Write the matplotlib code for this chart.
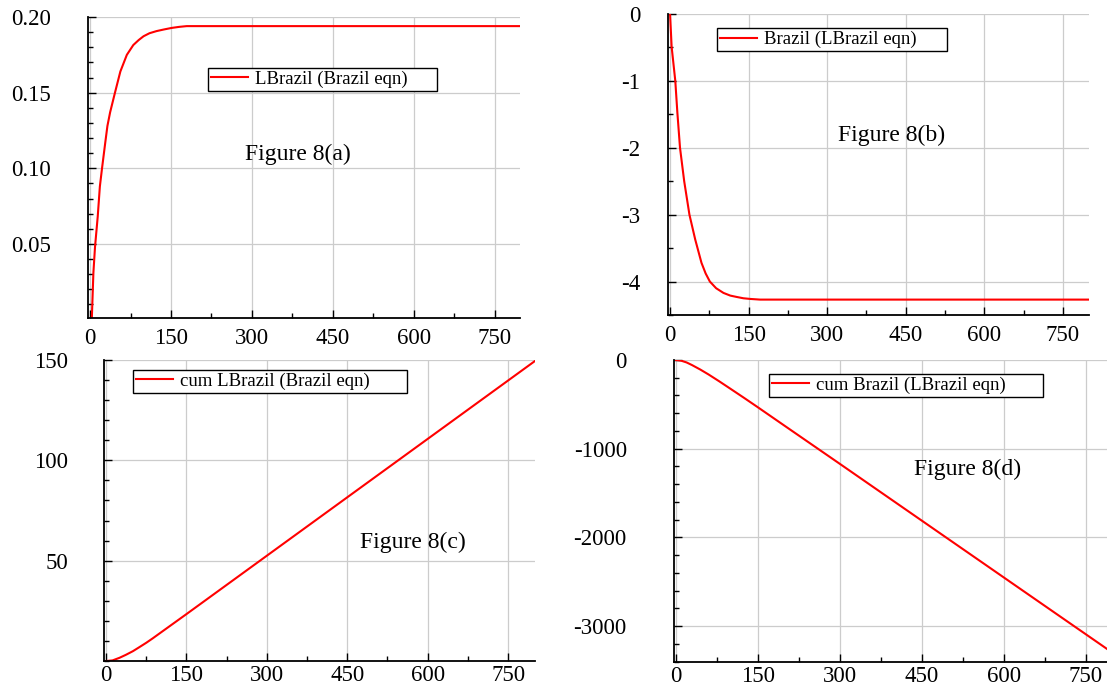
import matplotlib
matplotlib.use('Agg')
import matplotlib.pyplot as plt
from matplotlib.ticker import MultipleLocator

plt.rcParams['font.family'] = ['Liberation Serif', 'DejaVu Serif']
plt.rcParams['axes.unicode_minus'] = False

# values
t_a = [3, 6, 9, 14, 18, 22, 28, 32, 37, 46, 56, 68, 80, 90, 99, 110, 123, 137, 151, 165, 179, 800]
lbrazil = [0.0, 0.031, 0.048, 0.068, 0.088, 0.100, 0.117, 0.128, 0.137, 0.150,
           0.164, 0.175, 0.1815, 0.1848, 0.1873, 0.1893, 0.1907, 0.1918, 0.1928, 0.1935, 0.194, 0.194]

t_b = [0, 3, 10, 14, 19, 27, 37, 48, 60, 68, 76, 88, 102, 115, 127, 140, 153, 172, 800]
brazil = [0.0, -0.49, -1.0, -1.48, -2.0, -2.5, -3.0, -3.37, -3.72, -3.88, -4.0,
          -4.1, -4.17, -4.21, -4.23, -4.25, -4.26, -4.27, -4.27]

t_c = [0, 12, 25, 37, 50, 62, 75, 87, 100, 125, 150, 200, 300, 400, 500, 600, 700, 800]
cum_lbrazil = [0.0, 0.3, 1.6, 3.1, 4.9, 6.9, 9.1, 11.3, 13.8, 18.6, 23.4, 33.1, 52.5,
               71.9, 91.3, 110.7, 130.1, 149.5]

t_d = [0, 10, 20, 30, 45, 60, 80, 100, 125, 150, 200, 300, 400, 500, 600, 700, 790]
cum_brazil = [0, -8, -28, -58, -108, -163, -242, -324, -427, -532, -745, -1170,
              -1597, -2024, -2451, -2878, -3262]

xticks = [0, 150, 300, 450, 600, 750]

fig = plt.figure(figsize=(11.07, 6.9), dpi=100)


def setup(ax, xlim, ylim, yticks, ylabels, yminor, ypad, xpad):
    ax.set_xlim(xlim)
    ax.set_ylim(ylim)
    ax.set_xticks(xticks)
    ax.xaxis.set_minor_locator(MultipleLocator(75))
    ax.set_yticks(yticks)
    ax.set_yticklabels(ylabels)
    ax.yaxis.set_minor_locator(MultipleLocator(yminor))
    ax.grid(True, which='major', color='#cccccc', lw=0.9)
    ax.set_axisbelow(True)
    for s in ['top', 'right']:
        ax.spines[s].set_visible(False)
    for s in ['left', 'bottom']:
        ax.spines[s].set_linewidth(1.3)
    ax.tick_params(which='both', direction='in', width=1, labelsize=16.5)
    ax.tick_params(which='major', length=6)
    ax.tick_params(which='minor', length=3.5)
    ax.tick_params(axis='x', pad=xpad)
    ax.tick_params(axis='y', pad=ypad)


def add_legend(ax, x0, y0, w):
    leg = ax.legend(loc='upper left', bbox_to_anchor=(x0, y0, w, 0), mode='expand',
                    borderaxespad=0, fancybox=False, edgecolor='black', framealpha=1,
                    fontsize=13.5, handlelength=2.0, handletextpad=0.35, borderpad=0.15)
    leg.get_frame().set_linewidth(1.0)


# Figure 8(a)
ax1 = fig.add_axes([0.0795, 0.5391, 0.3902, 0.4362])
ax1.plot(t_a, lbrazil, color='red', lw=1.5, label='LBrazil (Brazil eqn)')
setup(ax1, (-4, 797), (0.001, 0.2), [0.05, 0.10, 0.15, 0.20],
      ['0.05', '0.10', '0.15', '0.20'], 0.01, 27, 7)
add_legend(ax1, 0.278, 0.831, 0.530)
ax1.text(0.486, 0.542, 'Figure 8(a)', transform=ax1.transAxes, ha='center', va='center', fontsize=17)

# Figure 8(b)
ax2 = fig.add_axes([0.6034, 0.5435, 0.3803, 0.4362])
ax2.plot(t_b, brazil, color='red', lw=1.5, label='Brazil (LBrazil eqn)')
setup(ax2, (-4, 800), (-4.5, 0), [0, -1, -2, -3, -4],
      ['0', '-1', '-2', '-3', '-4'], 0.5, 20, 7)
add_legend(ax2, 0.116, 0.953, 0.546)
ax2.text(0.532, 0.598, 'Figure 8(b)', transform=ax2.transAxes, ha='center', va='center', fontsize=17)

# Figure 8(c)
ax3 = fig.add_axes([0.0939, 0.0420, 0.3893, 0.4362])
ax3.plot(t_c, cum_lbrazil, color='red', lw=1.5, label='cum LBrazil (Brazil eqn)')
setup(ax3, (-4, 800), (0, 150), [50, 100, 150], ['50', '100', '150'], 10, 26, 3)
add_legend(ax3, 0.067, 0.967, 0.636)
ax3.text(0.717, 0.395, 'Figure 8(c)', transform=ax3.transAxes, ha='center', va='center', fontsize=17)

# Figure 8(d)
ax4 = fig.add_axes([0.6089, 0.0406, 0.3911, 0.4377])
ax4.plot(t_d, cum_brazil, color='red', lw=1.5, label='cum Brazil (LBrazil eqn)')
setup(ax4, (-3, 789), (-3405, 0), [0, -1000, -2000, -3000],
      ['0', '-1000', '-2000', '-3000'], 200, 34, 3)
add_legend(ax4, 0.219, 0.954, 0.633)
ax4.text(0.679, 0.636, 'Figure 8(d)', transform=ax4.transAxes, ha='center', va='center', fontsize=17)

fig.savefig('out.png', dpi=100)
